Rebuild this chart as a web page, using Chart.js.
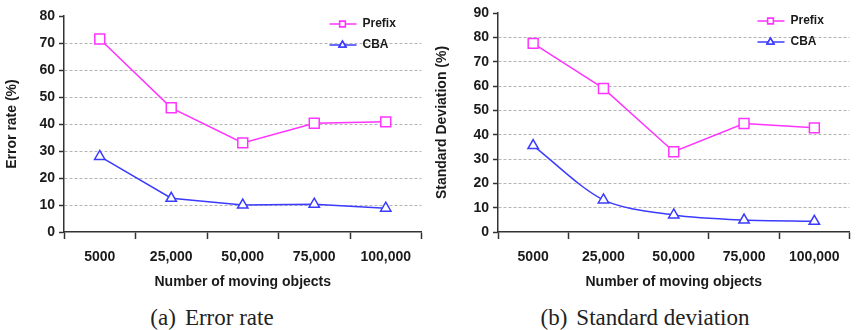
<!DOCTYPE html>
<html>
<head>
<meta charset="utf-8">
<script src="https://cdn.jsdelivr.net/npm/chart.js@4"></script>
<style>
  html, body { margin: 0; padding: 0; background: #fff; }
  #wrap { position: relative; width: 858px; height: 330px; overflow: hidden; }
  .panel { position: absolute; top: 0; width: 430px; height: 295px; }
  .caption { position: absolute; top: 304px; font-family: "Liberation Serif", "Times New Roman", serif;
             font-size: 23px; line-height: 27px; color: #222; white-space: nowrap; transform: translateX(-50%); }
  .caption span { margin-right: 9px; }
</style>
</head>
<body>
<div id="wrap">
  <div class="panel" style="left:0"><canvas id="errChart" width="430" height="295"></canvas></div>
  <div class="panel" style="left:430px;width:428px"><canvas id="sdChart" width="428" height="295"></canvas></div>
  <div class="caption" style="left:212px"><span>(a)</span>Error rate</div>
  <div class="caption" style="left:645px"><span>(b)</span>Standard deviation</div>
</div>
<script>
// カテゴリ（移動オブジェクト数）
const categories = ['5000', '25,000', '50,000', '75,000', '100,000'];

// (a) エラー率
const errPrefix = [71.5, 46, 33, 40.3, 40.8];
const errCBA = [28, 12.5, 10, 10.3, 8.8];

// (b) 標準偏差
const sdPrefix = [77.5, 59, 33, 44.6, 42.8];
const sdCBA = [35.5, 13.2, 7, 4.9, 4.4];

const FONT = '"Liberation Sans", Arial, sans-serif';
const TEXT = '#1a1a1a';
const PINK = '#ff33ff';
const BLUE = '#3b3bff';

// プロット内の凡例（線＋マーカー）
const inlineLegend = {
    id: 'inlineLegend',
    afterDraw(chart) {
        const ctx = chart.ctx;
        const area = chart.chartArea;
        const x0 = area.right - 92;
        ctx.save();
        chart.data.datasets.forEach((ds, i) => {
            const y = area.top + 8 + i * 21;
            ctx.strokeStyle = ds.borderColor;
            ctx.lineWidth = 1.5;
            ctx.beginPath();
            ctx.moveTo(x0, y);
            ctx.lineTo(x0 + 27, y);
            ctx.stroke();
            ctx.fillStyle = '#fff';
            Chart.helpers.drawPoint(ctx, { pointStyle: ds.pointStyle, radius: 4, borderWidth: 1.2 }, x0 + 13, y);
            ctx.fill();
            ctx.stroke();
            ctx.fillStyle = TEXT;
            ctx.font = 'bold 12px ' + FONT;
            ctx.textBaseline = 'middle';
            ctx.fillText(ds.label, x0 + 33, y);
        });
        ctx.restore();
    }
};

function makeChart(id, prefixData, cbaData, yMax, yTitle, pad, smoothCBA) {
    const ctx = document.getElementById(id).getContext('2d');
    return new Chart(ctx, {
        type: 'line',
        data: {
            labels: categories,
            datasets: [{
                label: 'Prefix',
                data: prefixData,
                borderColor: PINK,
                borderWidth: 1.5,
                pointStyle: 'rect',
                pointRadius: 7,
                pointBorderWidth: 1.5,
                pointBorderColor: PINK,
                pointBackgroundColor: '#fff',
                tension: 0
            }, {
                label: 'CBA',
                data: cbaData,
                borderColor: BLUE,
                borderWidth: 1.5,
                pointStyle: 'triangle',
                pointRadius: 6,
                pointBorderWidth: 1.5,
                pointBorderColor: BLUE,
                pointBackgroundColor: '#fff',
                tension: smoothCBA ? 0.3 : 0
            }]
        },
        options: {
            responsive: false,
            animation: false,
            layout: { padding: pad },
            plugins: {
                legend: { display: false },
                tooltip: { enabled: false }
            },
            scales: {
                x: {
                    offset: true,
                    grid: { drawOnChartArea: false, offset: true, tickLength: 7, tickColor: '#333', tickWidth: 1.5 },
                    border: { color: '#333', width: 1.5 },
                    ticks: { color: TEXT, font: { family: FONT, size: 14, weight: 'bold' }, padding: 10 },
                    title: { display: true, text: 'Number of moving objects', color: TEXT,
                             font: { family: FONT, size: 14, weight: 'bold' }, padding: { top: 4 } },
                    afterFit(scale) { scale.height = 63; }
                },
                y: {
                    min: 0,
                    max: yMax,
                    ticks: { stepSize: 10, color: TEXT, font: { family: FONT, size: 14, weight: 'bold' }, padding: 4 },
                    grid: {
                        color: c => (c.tick && (c.tick.value === yMax || c.tick.value === 0)) ? 'rgba(0,0,0,0)' : '#b5b5b5',
                        lineWidth: 1,
                        tickLength: 5,
                        tickColor: '#333',
                        tickWidth: 1.5,
                        tickBorderDash: []
                    },
                    border: { color: '#333', width: 1.5, dash: [3, 2] },
                    title: { display: true, text: yTitle, color: TEXT,
                             font: { family: FONT, size: 14, weight: 'bold' }, padding: { bottom: 2 } },
                    afterFit(scale) { scale.width = pad.yWidth; }
                }
            }
        },
        plugins: [inlineLegend]
    });
}

makeChart('errChart', errPrefix, errCBA, 80, 'Error rate (%)',
          { left: 0, right: 5, top: 16, bottom: 0, yWidth: 64 }, false);
makeChart('sdChart', sdPrefix, sdCBA, 90, 'Standard Deviation (%)',
          { left: 0, right: 1, top: 13, bottom: 0, yWidth: 68 }, true);
</script>
</body>
</html>
